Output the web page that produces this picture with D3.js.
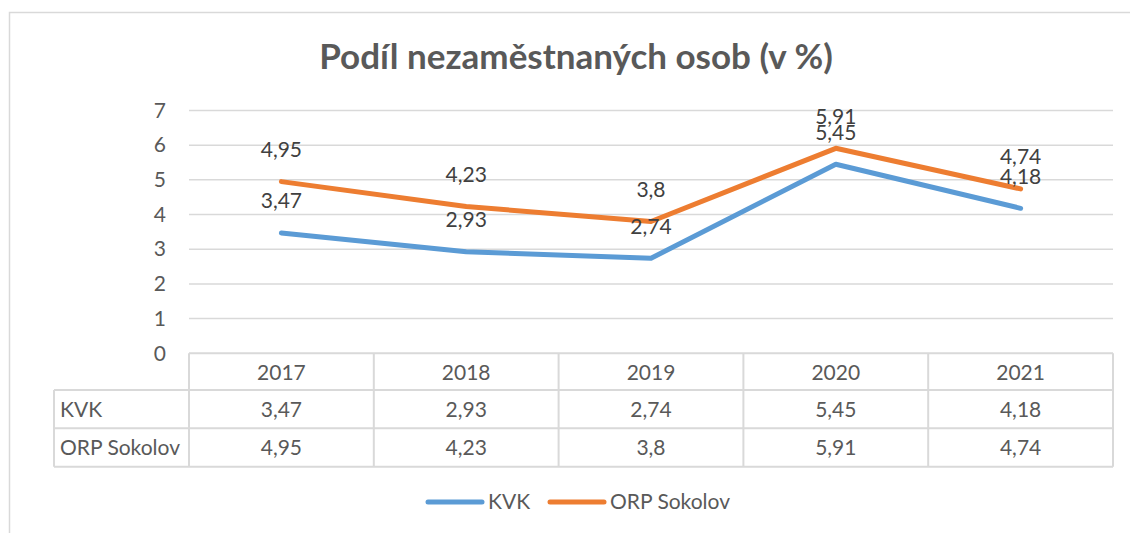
<!DOCTYPE html>
<html>
<head>
<meta charset="utf-8">
<script src="https://cdn.jsdelivr.net/npm/d3@7"></script>
<style>
  body { margin: 0; background: #fff; }
  text { font-family: Lato, "Open Sans", sans-serif; }
</style>
</head>
<body>
<div id="chart-area"></div>
<script>
var years = ["2017", "2018", "2019", "2020", "2021"];
var kvk = [3.47, 2.93, 2.74, 5.45, 4.18];
var orp = [4.95, 4.23, 3.8, 5.91, 4.74];
var yTicks = [0, 1, 2, 3, 4, 5, 6, 7];
var seriesNames = ["KVK", "ORP Sokolov"];
var colors = ["#5B9BD5", "#ED7D31"];

var W = 1130, H = 533;
var fs = 21;

var svg = d3.select("#chart-area")
    .append("svg")
    .attr("width", W)
    .attr("height", H);

// outer chart border (cut by the window on the right/bottom)
svg.append("rect")
    .attr("x", 9.5).attr("y", 12.5)
    .attr("width", 1300).attr("height", 700)
    .attr("fill", "none").attr("stroke", "#D9D9D9").attr("stroke-width", 1.5);

svg.append("text")
    .attr("x", 576).attr("y", 69)
    .attr("text-anchor", "middle")
    .attr("font-size", 35).attr("font-weight", "bold")
    .attr("fill", "#595959")
    .text("Podíl nezaměstnaných osob (v %)");

var x = d3.scaleBand().domain(years).range([189, 1113]);
var y = d3.scaleLinear().domain([0, 7]).range([353.3, 110.5]);

// gridlines
svg.append("g").selectAll("line")
    .data(yTicks.filter(d => d > 0))
    .enter().append("line")
    .attr("x1", 189).attr("x2", 1113)
    .attr("y1", d => y(d)).attr("y2", d => y(d))
    .attr("stroke", "#D9D9D9").attr("stroke-width", 1.5);

// y axis labels
var yAxis = d3.axisLeft(y).tickValues(yTicks).tickFormat(d3.format("d")).tickSize(0).tickPadding(0);
var gy = svg.append("g").attr("transform", "translate(166,0)").call(yAxis);
gy.select(".domain").remove();
gy.selectAll("text")
    .attr("font-size", fs).attr("fill", "#595959")
    .style("font-family", "Lato, sans-serif");

// lines
var line = d3.line()
    .x((d, i) => x(years[i]) + x.bandwidth() / 2)
    .y(d => y(d));

[kvk, orp].forEach(function(vals, s) {
    svg.append("path")
        .datum(vals)
        .attr("d", line)
        .attr("fill", "none")
        .attr("stroke", colors[s])
        .attr("stroke-width", 5)
        .attr("stroke-linecap", "round")
        .attr("stroke-linejoin", "round");
});

// data labels
[kvk, orp].forEach(function(vals) {
    svg.append("g").selectAll("text")
        .data(vals)
        .enter().append("text")
        .attr("x", (d, i) => x(years[i]) + x.bandwidth() / 2)
        .attr("y", d => y(d) - 32)
        .attr("dy", "0.35em")
        .attr("text-anchor", "middle")
        .attr("font-size", fs).attr("fill", "#404040")
        .text(d => String(d).replace(".", ","));
});

// data table
var rowTop = [353.3, 390, 428.3];
var rowBottom = 466.7;
var tbl = svg.append("g")
    .attr("stroke", "#D9D9D9").attr("stroke-width", 2).attr("fill", "none");
tbl.append("line").attr("x1", 189).attr("x2", 1113).attr("y1", rowTop[0]).attr("y2", rowTop[0]);
tbl.append("line").attr("x1", 54).attr("x2", 1113).attr("y1", rowTop[1]).attr("y2", rowTop[1]);
tbl.append("line").attr("x1", 54).attr("x2", 1113).attr("y1", rowTop[2]).attr("y2", rowTop[2]);
tbl.append("line").attr("x1", 54).attr("x2", 1113).attr("y1", rowBottom).attr("y2", rowBottom);
tbl.append("line").attr("x1", 54).attr("x2", 54).attr("y1", rowTop[1]).attr("y2", rowBottom);
tbl.selectAll(".col")
    .data(years.concat(["end"]))
    .enter().append("line")
    .attr("x1", (d, i) => 189 + i * x.bandwidth())
    .attr("x2", (d, i) => 189 + i * x.bandwidth())
    .attr("y1", rowTop[0]).attr("y2", rowBottom);

svg.append("g").selectAll("text")
    .data(years)
    .enter().append("text")
    .attr("x", d => x(d) + x.bandwidth() / 2)
    .attr("y", (rowTop[0] + rowTop[1]) / 2 + 1)
    .attr("dy", "0.35em").attr("text-anchor", "middle")
    .attr("font-size", fs).attr("fill", "#595959")
    .text(d => d);

[kvk, orp].forEach(function(vals, s) {
    var cy = s === 0 ? (rowTop[1] + rowTop[2]) / 2 : (rowTop[2] + rowBottom) / 2;
    svg.append("text")
        .attr("x", 60).attr("y", cy).attr("dy", "0.35em")
        .attr("font-size", fs).attr("fill", "#595959")
        .text(seriesNames[s]);
    svg.append("g").selectAll("text")
        .data(vals)
        .enter().append("text")
        .attr("x", (d, i) => x(years[i]) + x.bandwidth() / 2)
        .attr("y", cy).attr("dy", "0.35em").attr("text-anchor", "middle")
        .attr("font-size", fs).attr("fill", "#595959")
        .text(d => String(d).replace(".", ","));
});

// legend
var legendX = [428, 550];
seriesNames.forEach(function(name, s) {
    svg.append("line")
        .attr("x1", legendX[s]).attr("x2", legendX[s] + 54)
        .attr("y1", 502).attr("y2", 502)
        .attr("stroke", colors[s]).attr("stroke-width", 5)
        .attr("stroke-linecap", "round");
    svg.append("text")
        .attr("x", legendX[s] + 60).attr("y", 502).attr("dy", "0.35em")
        .attr("font-size", fs).attr("fill", "#595959")
        .text(name);
});
</script>
</body>
</html>
